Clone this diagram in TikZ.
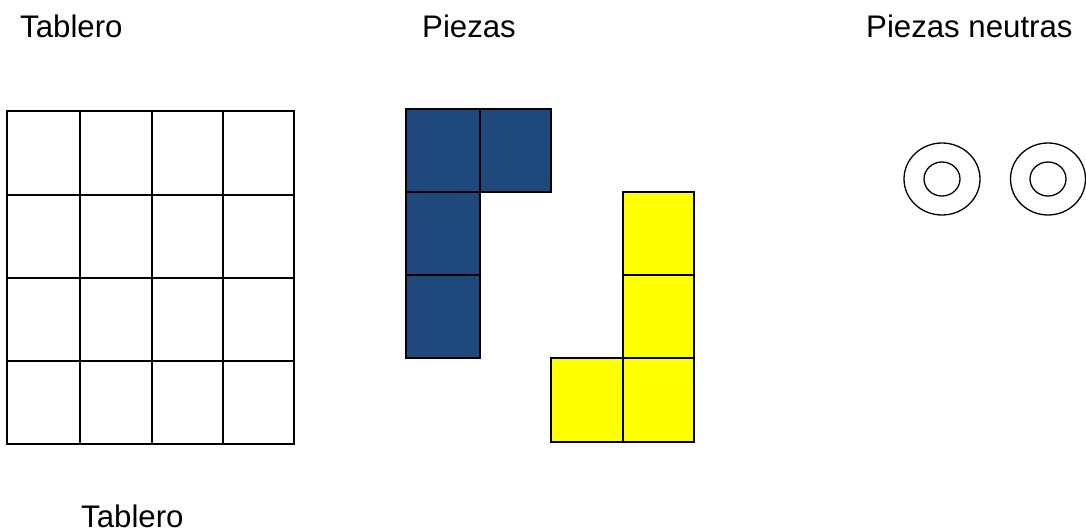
\documentclass[tikz,border=0pt]{standalone}
\usepackage{fontspec}
\setmainfont{Liberation Sans}
\definecolor{piezaazul}{RGB}{31,73,125}
\definecolor{piezaamarilla}{RGB}{255,255,0}
\begin{document}
\begin{tikzpicture}[x=1pt,y=-1pt,
  etiqueta/.style={anchor=base west,inner sep=0pt,font=\fontsize{31.2}{36}\selectfont},
  celda/.style={draw=black,line width=1.6pt},
  anillo/.style={draw=black,line width=1.3pt}]
\useasboundingbox (0,0) rectangle (1086,530);
% titles
\node[etiqueta] (t1) at (20,37) {Tablero};
\node[etiqueta] (t2) at (422,37) {Piezas};
\node[etiqueta] (t3) at (866,37) {Piezas neutras};
\node[etiqueta] (t4) at (81,527) {Tablero};
% board
\draw[celda] (7,111) rectangle (294,444);
\foreach \x in {80,152,223}{
  \draw[celda] (\x,111) -- (\x,444);
}
\foreach \y in {195,278,361}{
  \draw[celda] (7,\y) -- (294,\y);
}
% blue piece
\draw[celda,fill=piezaazul] (406,109) rectangle (480,192);
\draw[celda,fill=piezaazul] (480,109) rectangle (551,192);
\draw[celda,fill=piezaazul] (406,192) rectangle (480,275);
\draw[celda,fill=piezaazul] (406,275) rectangle (480,358);
% yellow piece
\draw[celda,fill=piezaamarilla] (623,192) rectangle (694,275);
\draw[celda,fill=piezaamarilla] (623,275) rectangle (694,358);
\draw[celda,fill=piezaamarilla] (623,358) rectangle (694,442);
\draw[celda,fill=piezaamarilla] (551,358) rectangle (623,442);
% neutral pieces
\draw[anillo] (942,179) ellipse [x radius=38,y radius=36];
\draw[anillo] (942,179) ellipse [x radius=18,y radius=17];
\draw[anillo] (1048,179) ellipse [x radius=37.5,y radius=36];
\draw[anillo] (1048,179) ellipse [x radius=18,y radius=17];
\end{tikzpicture}
\end{document}
